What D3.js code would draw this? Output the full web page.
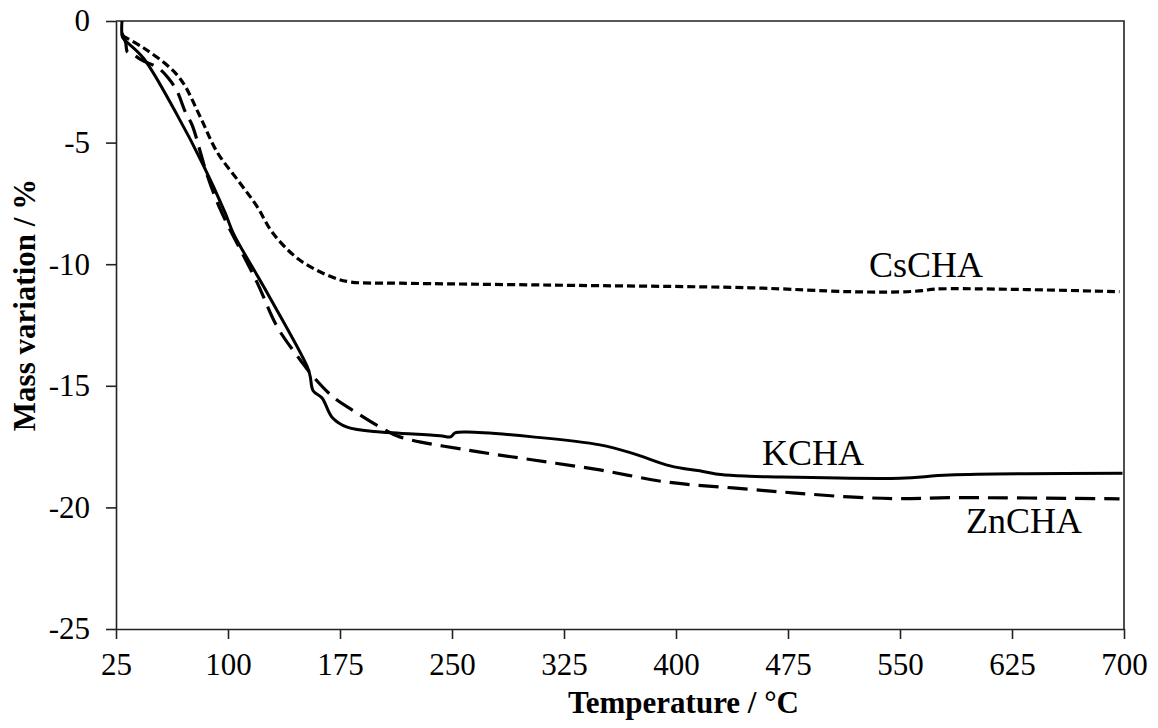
<!DOCTYPE html>
<html>
<head>
<meta charset="utf-8">
<script src="https://cdn.jsdelivr.net/npm/d3@7"></script>
<style>
  html, body { margin: 0; padding: 0; background: #fff; }
  svg { display: block; }
  svg text { font-family: "Liberation Serif", "Times New Roman", serif !important; fill: #000; }
</style>
</head>
<body>
<div id="chart"></div>
<script>
// ---- data ----
const xTicks = [25, 100, 175, 250, 325, 400, 475, 550, 625, 700];
const yTicks = [0, -5, -10, -15, -20, -25];

const kchaT = [29.0, 29.3, 31.2, 43.3, 66, 83.4, 98.1, 103.5, 126.3, 153, 155, 157, 163, 169.8, 179.8, 202, 215, 242, 249, 252, 260, 304, 349, 371, 394, 407, 418, 430, 449, 461, 550, 583, 699];
const kchaV = [0, -0.66, -0.8, -1.52, -3.87, -5.92, -7.89, -8.72, -11.18, -14.2, -14.6, -15.2, -15.5, -16.3, -16.7, -16.9, -16.95, -17.05, -17.1, -16.94, -16.9, -17.1, -17.43, -17.78, -18.26, -18.42, -18.52, -18.65, -18.72, -18.74, -18.8, -18.67, -18.6];

const znchaT = [29.0, 31.5, 32.6, 36, 42, 53.3, 60, 66, 71.4, 76, 82, 86, 95, 119.6, 133, 148.4, 155, 170.4, 186.5, 202, 215, 260, 304.5, 349, 394, 438, 478, 516, 550, 583, 697];
const znchaV = [-0.5, -0.9, -1.27, -1.35, -1.6, -1.93, -2.34, -2.9, -3.74, -4.28, -5.5, -6.33, -7.77, -10.77, -12.58, -13.94, -14.47, -15.46, -16.12, -16.7, -17.1, -17.64, -18.05, -18.46, -18.96, -19.2, -19.4, -19.57, -19.64, -19.6, -19.65];

const cschaT = [29.2, 43.3, 61.3, 70, 81.4, 92.8, 108, 119.5, 130, 148, 170.5, 182, 215, 316, 449.6, 516, 550, 565, 574, 697];
const cschaV = [-0.6, -1.1, -1.93, -2.55, -3.94, -5.4, -6.66, -7.63, -8.72, -9.83, -10.55, -10.73, -10.78, -10.86, -10.97, -11.13, -11.14, -11.09, -11.02, -11.13];

const seriesNames = ["CsCHA", "KCHA", "ZnCHA"];
const xTitle = "Temperature / °C";
const yTitle = "Mass variation / %";

// ---- layout ----
const W = 1158, H = 728;
const m = { left: 116, right: 34, top: 21, bottom: 99 };
const FONT = '"Liberation Serif", "Times New Roman", serif';

const svg = d3.select("#chart").append("svg").attr("width", W).attr("height", H);

const x = d3.scaleLinear().domain([25, 700]).range([m.left, W - m.right]);
const y = d3.scaleLinear().domain([-25, 0]).range([H - m.bottom, m.top]);

// frame (top and right borders)
svg.append("path")
  .attr("d", `M${x(25)},${y(0)}H${x(700)}V${y(-25)}`)
  .attr("fill", "none").attr("stroke", "#222").attr("stroke-width", 1.6);

// axes
const fmt = d => String(d);
const xAxis = svg.append("g")
  .attr("transform", `translate(0,${y(-25)})`)
  .call(d3.axisBottom(x).tickValues(xTicks).tickFormat(fmt).tickSize(10).tickPadding(14).tickSizeOuter(0));
const yAxis = svg.append("g")
  .attr("transform", `translate(${x(25)},0)`)
  .call(d3.axisLeft(y).tickValues(yTicks).tickFormat(fmt).tickSize(10).tickPadding(16).tickSizeOuter(0));

[xAxis, yAxis].forEach(g => {
  g.attr("font-family", FONT).attr("font-size", 31);
  g.select(".domain").attr("stroke", "#222").attr("stroke-width", 1.6);
  g.selectAll(".tick line").attr("stroke", "#222").attr("stroke-width", 1.6);
  g.selectAll(".tick text").attr("font-family", FONT).attr("font-size", 31).attr("fill", "#000");
});
xAxis.selectAll(".tick text").attr("dy", "0.71em");

// curves
const line = d3.line().x(d => x(d[0])).y(d => y(d[1])).curve(d3.curveCatmullRom.alpha(0.5));
const zip = (a, b) => a.map((v, i) => [v, b[i]]);

svg.append("path").datum(zip(cschaT, cschaV)).attr("d", line)
  .attr("fill", "none").attr("stroke", "#000").attr("stroke-width", 3.2)
  .attr("stroke-dasharray", "8,4");
svg.append("path").datum(zip(znchaT, znchaV)).attr("d", line)
  .attr("fill", "none").attr("stroke", "#000").attr("stroke-width", 3.2)
  .attr("stroke-dasharray", "20,9");
svg.append("path").datum(zip(kchaT, kchaV)).attr("d", line)
  .attr("fill", "none").attr("stroke", "#000").attr("stroke-width", 3);

// series labels
const lab = [
  { t: seriesNames[0], x: 869, y: 277 },
  { t: seriesNames[1], x: 762, y: 465 },
  { t: seriesNames[2], x: 966, y: 533 }
];
svg.selectAll("text.lab").data(lab).enter().append("text")
  .attr("class", "lab").attr("x", d => d.x).attr("y", d => d.y)
  .attr("font-family", FONT).attr("font-size", 36).text(d => d.t);

// axis titles
svg.append("text").attr("x", 799).attr("y", 713).attr("text-anchor", "end")
  .attr("font-family", FONT).attr("font-size", 31).attr("font-weight", "bold").text(xTitle);
svg.append("text").attr("transform", "translate(35,305) rotate(-90)")
  .attr("text-anchor", "middle")
  .attr("font-family", FONT).attr("font-size", 31).attr("font-weight", "bold").text(yTitle);
</script>
</body>
</html>
